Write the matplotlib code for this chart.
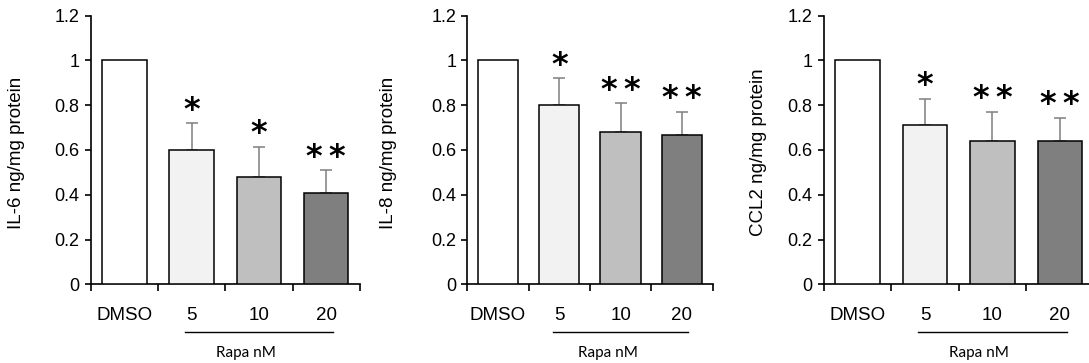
import numpy as np
import matplotlib
matplotlib.use("Agg")
import matplotlib.pyplot as plt

plt.rcParams['font.family'] = ['Liberation Sans', 'DejaVu Sans']

groups = ['DMSO', '5', '10', '20']
il6 = [1.0, 0.60, 0.48, 0.41]
il6_err = [0.0, 0.12, 0.135, 0.10]
il8 = [1.0, 0.80, 0.68, 0.665]
il8_err = [0.0, 0.12, 0.13, 0.105]
ccl2 = [1.0, 0.71, 0.64, 0.64]
ccl2_err = [0.0, 0.12, 0.13, 0.105]
il6_stars = ['', '*', '*', '**']
il8_stars = ['', '*', '**', '**']
ccl2_stars = ['', '*', '**', '**']
ylabels = ['IL-6 ng/mg protein', 'IL-8 ng/mg protein', 'CCL2 ng/mg protein']
colors = ['#ffffff', '#f2f2f2', '#bfbfbf', '#7f7f7f']

fig = plt.figure(figsize=(10.89, 3.63), dpi=100)
boxes = [[0.0833, 0.2168, 0.2472, 0.740],
         [0.4291, 0.2168, 0.2252, 0.740],
         [0.7564, 0.2168, 0.2479, 0.740]]
label_x = [-0.274, -0.323, -0.24]

panels = [(il6, il6_err, il6_stars), (il8, il8_err, il8_stars), (ccl2, ccl2_err, ccl2_stars)]
for i, (vals, errs, stars) in enumerate(panels):
    ax = fig.add_axes(boxes[i])
    x = np.arange(len(groups))
    ax.bar(x, vals, width=0.66, color=colors, edgecolor='black', linewidth=1.1, zorder=3)
    lower = np.zeros(len(vals))
    ax.errorbar(x[1:], vals[1:], yerr=[lower[1:], errs[1:]], fmt='none',
                ecolor='#7f7f7f', elinewidth=1.1, capsize=4, capthick=1.1, zorder=2)
    for xi, v, e, s in zip(x, vals, errs, stars):
        if s:
            ax.text(xi, v + e + 0.02, '\u2009'.join(s),
                    ha='center', va='baseline', fontsize=23, fontweight='bold',
                    family='DejaVu Sans', color='black')
    ax.set_xlim(-0.5, 3.5)
    ax.set_ylim(0, 1.2)
    ax.set_yticks([0, 0.2, 0.4, 0.6, 0.8, 1.0, 1.2])
    ax.set_yticklabels(['0', '0.2', '0.4', '0.6', '0.8', '1', '1.2'])
    ax.set_xticks([-0.5, 0.5, 1.5, 2.5, 3.5])
    ax.set_xticklabels([])
    ax.set_xticks(x, minor=True)
    ax.set_xticklabels(groups, minor=True, fontsize=13.5)
    ax.tick_params(axis='x', which='minor', length=0, pad=16)
    ax.tick_params(axis='x', which='major', length=5, width=1.2, direction='out')
    ax.tick_params(axis='y', length=4, width=1.2, labelsize=13, pad=4)
    for sp in ['top', 'right']:
        ax.spines[sp].set_visible(False)
    for sp in ['left', 'bottom']:
        ax.spines[sp].set_linewidth(1.2)
    ax.set_ylabel(ylabels[i], fontsize=13.5, va='center')
    ax.yaxis.set_label_coords(label_x[i], 0.49)
    # Rapa nM bracket
    ax.plot([0.9, 3.1], [-0.176, -0.176], transform=ax.get_xaxis_transform(),
            color='black', lw=1.0, clip_on=False)
    ax.text(1.8, -0.256, 'Rapa nM', transform=ax.get_xaxis_transform(),
            ha='center', va='center', fontsize=11, family=['Lato', 'DejaVu Sans'])

fig.savefig('out.png', dpi=100)
